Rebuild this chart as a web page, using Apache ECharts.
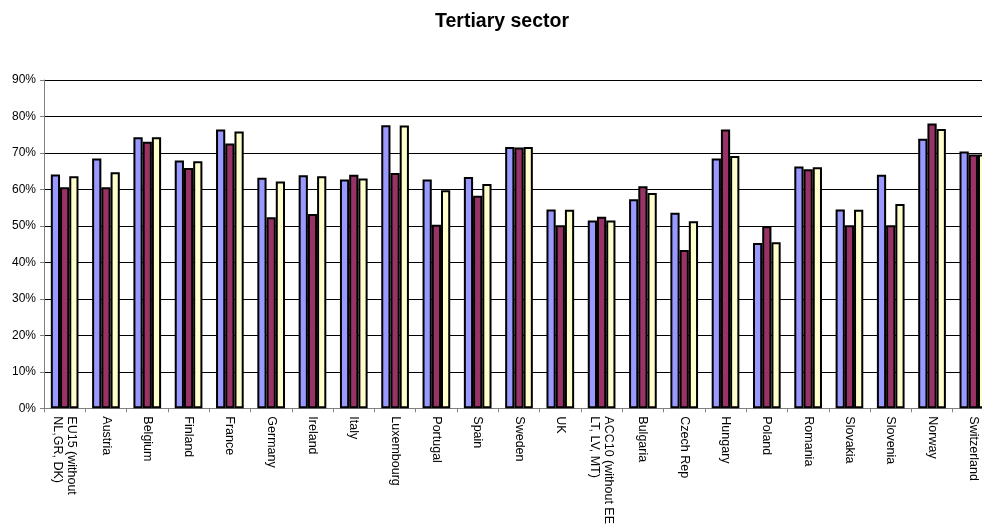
<!DOCTYPE html>
<html><head><meta charset="utf-8">
<script src="https://cdn.jsdelivr.net/npm/echarts@6/dist/echarts.min.js"></script>
<style>html,body{margin:0;padding:0;background:#fff;overflow:hidden;width:982px;height:527px}#c{width:1000px;height:527px}</style>
</head><body><div id="c"></div>
<script>
var categories = ["EU15 (without\nNL,GR, DK)","Austria","Belgium","Finland","France","Germany","Ireland","Italy","Luxembourg","Portugal","Spain","Sweden","UK","ACC10 (without EE\nLT, LV, MT)","Bulgaria","Czech Rep","Hungary","Poland","Romania","Slovakia","Slovenia","Norway","Switzerland"];
var series1 = [64.1,68.5,74.3,67.9,76.4,63.2,63.9,62.7,77.6,62.7,63.4,71.6,54.5,51.5,57.3,53.6,68.5,45.3,66.3,54.5,64.0,73.9,70.4];
var series2 = [60.6,60.6,73.1,65.9,72.6,52.4,53.3,64.0,64.5,50.3,58.3,71.5,50.2,52.5,60.9,43.4,76.4,49.9,65.5,50.2,50.2,78.1,69.6];
var series3 = [63.6,64.7,74.3,67.7,75.9,62.2,63.6,63.0,77.5,59.8,61.5,71.6,54.4,51.5,59.0,51.3,69.2,45.5,66.1,54.4,56.0,76.6,69.6];
var yTicks = {min:0, max:90, interval:10};

var chart = echarts.init(document.getElementById('c'));
var font = 'Liberation Sans, Arial, sans-serif';
function bar(name, data, color){
  return {name:name, type:'bar', data:data, barGap:'0%', barCategoryGap:'33%',
    itemStyle:{color:color, borderColor:'#000', borderWidth:2}, animation:false};
}
chart.setOption({
  animation:false,
  title:{text:'Tertiary sector', left:430, top:7,
    textStyle:{fontFamily:font, fontWeight:'bold', fontSize:19.5, color:'#000'}},
  grid:{left:44, width:950, top:80, height:330, containLabel:false},
  xAxis:{type:'category', data:categories,
    axisLine:{lineStyle:{color:'#808080', width:1}},
    axisTick:{show:true, length:4, lineStyle:{color:'#808080'}},
    axisLabel:{rotate:-90, interval:0, margin:8, fontFamily:font, fontSize:12.5, color:'#000', lineHeight:14}
  },
  yAxis:{type:'value', min:yTicks.min, max:yTicks.max, interval:yTicks.interval,
    axisLine:{show:true, lineStyle:{color:'#808080'}},
    axisTick:{show:true, length:4, lineStyle:{color:'#808080'}},
    axisLabel:{formatter:'{value}%', margin:8, fontFamily:font, fontSize:12, color:'#000'},
    splitLine:{show:true, lineStyle:{color:'#000', width:1}}
  },
  series:[bar('s1', series1, '#9999FF'), bar('s2', series2, '#993366'), bar('s3', series3, '#FFFFCC')]
});
</script></body></html>
